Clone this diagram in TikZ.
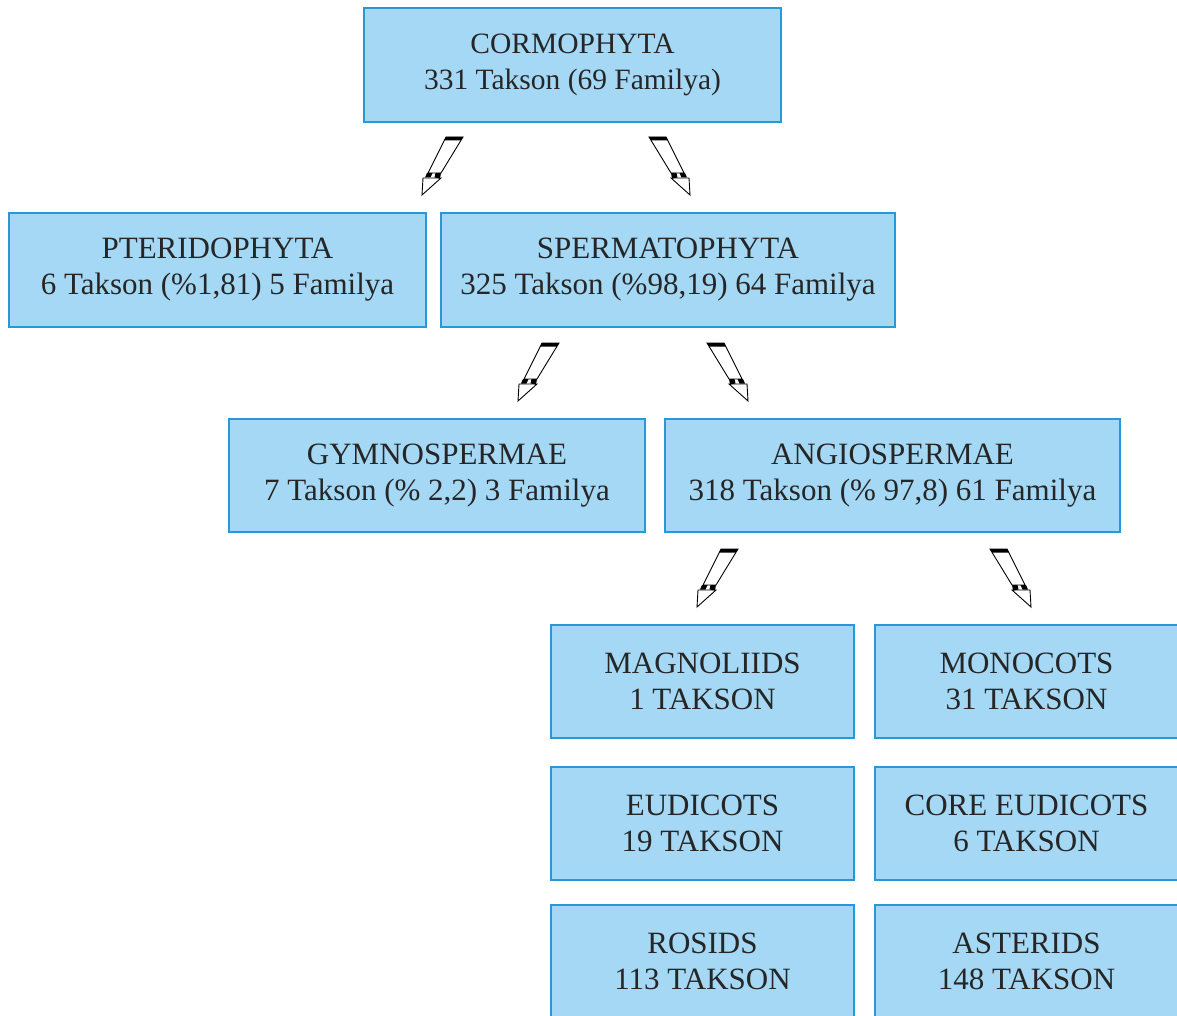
\documentclass[tikz,border=0pt]{standalone}
\usepackage{fontspec}
\setmainfont{Liberation Serif}
\definecolor{boxfill}{HTML}{A4D8F5}
\definecolor{boxline}{HTML}{2898D8}
\definecolor{txt}{HTML}{262626}
\begin{document}
\begin{tikzpicture}[x=1pt,y=-1pt,
  box/.style={draw=boxline, fill=boxfill, line width=1.6pt, text=txt, align=center,
    font=\fontsize{31}{36}\selectfont, inner sep=0pt},
  bolt/.pic={
    \draw[line width=0.9pt, fill=white] (24,-58) -- (41,-58) -- (19,-22) -- (6,-22) -- cycle;
    \draw[line width=0.9pt, fill=white] (1,-17) -- (19,-17) -- (0,0) -- cycle;
    \fill (24,-58) -- (41,-58) -- (38.8,-54.5) -- (22.2,-54.5) -- cycle;
    \fill (5,-22) -- (10.5,-22) -- (8.5,-17.5) -- (3,-17.5) -- cycle;
    \fill (13.5,-22) -- (19,-22) -- (18,-16.5) -- (12.5,-17.5) -- cycle;
  }]
\useasboundingbox (0,0) rectangle (1177,1016);
\clip (0,0) rectangle (1177,1016);
\node[box, minimum width=417pt, minimum height=114pt, font=\fontsize{29.5}{36}\selectfont] (cormo) at (572.5,65) {CORMOPHYTA\\331 Takson (69 Familya)};
\node[box, minimum width=417pt, minimum height=114pt] (pter) at (217.5,270) {PTERIDOPHYTA\\6 Takson (\%1,81) 5 Familya};
\node[box, minimum width=454pt, minimum height=114pt] (sperm) at (668,270) {SPERMATOPHYTA\\325 Takson (\%98,19) 64 Familya};
\node[box, minimum width=416pt, minimum height=113pt] (gymno) at (437,475.5) {GYMNOSPERMAE\\7 Takson (\% 2,2) 3 Familya};
\node[box, minimum width=455pt, minimum height=113pt] (angio) at (892.5,475.5) {ANGIOSPERMAE\\318 Takson (\% 97,8) 61 Familya};
\node[box, minimum width=303pt, minimum height=113pt] (magno) at (702.5,681.5) {MAGNOLIIDS\\1 TAKSON};
\node[box, minimum width=303pt, minimum height=113pt] (mono) at (1026.5,681.5) {MONOCOTS\\31 TAKSON};
\node[box, minimum width=303pt, minimum height=113pt] (eudi) at (702.5,823.5) {EUDICOTS\\19 TAKSON};
\node[box, minimum width=303pt, minimum height=113pt] (core) at (1026.5,823.5) {CORE EUDICOTS\\6 TAKSON};
\node[box, minimum width=303pt, minimum height=113pt] (rosids) at (702.5,961.5) {ROSIDS\\113 TAKSON};
\node[box, minimum width=303pt, minimum height=113pt] (aster) at (1026.5,961.5) {ASTERIDS\\148 TAKSON};
\pic at (422,195) {bolt};
\pic[xscale=-1] at (690,195) {bolt};
\pic at (518,401) {bolt};
\pic[xscale=-1] at (748,401) {bolt};
\pic at (697,607) {bolt};
\pic[xscale=-1] at (1031,607) {bolt};
\end{tikzpicture}
\end{document}
